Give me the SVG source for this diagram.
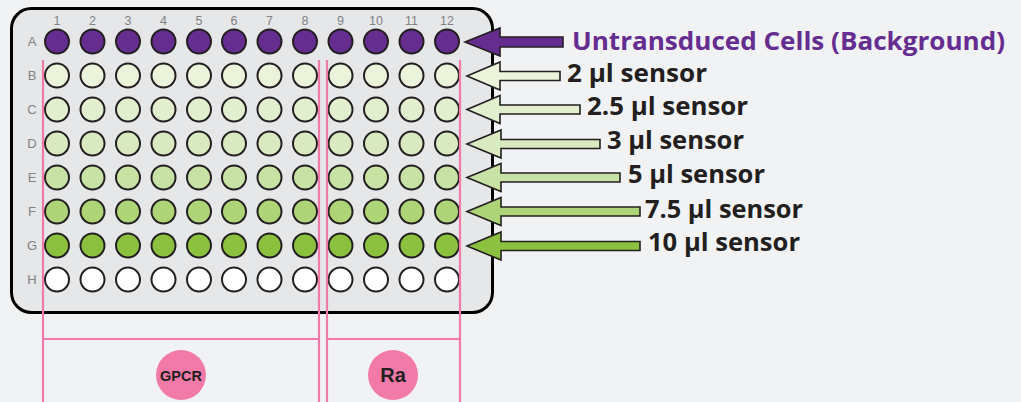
<svg xmlns="http://www.w3.org/2000/svg" width="1021" height="402" viewBox="0 0 1021 402">
<style>
.num{font-family:"Liberation Sans",Arial,sans-serif;font-size:12.5px;fill:#808285;text-anchor:middle}
.row{font-family:"Liberation Sans",Arial,sans-serif;font-size:13px;fill:#808285;text-anchor:middle}
.w{stroke:#231f20;stroke-width:2}
.arr{stroke:#231f20;stroke-width:1.6;stroke-linejoin:miter}
.lbl{font-family:"Open Sans","Liberation Sans",sans-serif;font-weight:700;font-size:25.5px;fill:#231f20}
.pink{stroke:#f27aa8;stroke-width:2.2;fill:none}
.tag{font-family:"Liberation Sans",Arial,sans-serif;font-weight:bold;fill:#231f20;text-anchor:middle}
</style>
<defs>
<g id="row12">
<circle cx="57" cy="0" r="12"/><circle cx="92.5" cy="0" r="12"/><circle cx="128" cy="0" r="12"/><circle cx="163.5" cy="0" r="12"/><circle cx="199" cy="0" r="12"/><circle cx="234" cy="0" r="12"/><circle cx="269.5" cy="0" r="12"/><circle cx="305" cy="0" r="12"/><circle cx="340.5" cy="0" r="12"/><circle cx="376" cy="0" r="12"/><circle cx="411.5" cy="0" r="12"/><circle cx="447" cy="0" r="12"/>
</g>
</defs>
<rect width="1021" height="402" fill="#f1f2f4"/>
<g id="plate">
<rect x="11.5" y="8.5" width="481" height="304" rx="20" ry="20" fill="#e6e7e8" stroke="#000" stroke-width="3"/>
<g id="colnums">
<text class="num" x="57" y="25">1</text><text class="num" x="92.5" y="25">2</text><text class="num" x="128" y="25">3</text><text class="num" x="163.5" y="25">4</text><text class="num" x="199" y="25">5</text><text class="num" x="234" y="25">6</text><text class="num" x="269.5" y="25">7</text><text class="num" x="305" y="25">8</text><text class="num" x="340.5" y="25">9</text><text class="num" x="376" y="25">10</text><text class="num" x="411.5" y="25">11</text><text class="num" x="447" y="25">12</text>
</g>
<g id="rowletters">
<text class="row" x="32" y="46">A</text><text class="row" x="32" y="80">B</text><text class="row" x="32" y="114">C</text><text class="row" x="32" y="148">D</text><text class="row" x="32" y="182">E</text><text class="row" x="32" y="216">F</text><text class="row" x="32" y="250">G</text><text class="row" x="32" y="284">H</text>
</g>
<g id="rowA" class="w" fill="#652d90"><use href="#row12" y="41.5"/></g>
<g id="rowB" class="w" fill="#ebf4da"><use href="#row12" y="75.5"/></g>
<g id="rowC" class="w" fill="#e2efcf"><use href="#row12" y="109.5"/></g>
<g id="rowD" class="w" fill="#d9eac1"><use href="#row12" y="143.5"/></g>
<g id="rowE" class="w" fill="#c8e2a5"><use href="#row12" y="177.5"/></g>
<g id="rowF" class="w" fill="#aed478"><use href="#row12" y="211.5"/></g>
<g id="rowG" class="w" fill="#8cc13f"><use href="#row12" y="245.5"/></g>
<g id="rowH" class="w" fill="#ffffff"><use href="#row12" y="279.5"/></g>
</g>
<g id="groups">
<line class="pink" x1="43" y1="60" x2="43" y2="402"/>
<line class="pink" x1="319" y1="60" x2="319" y2="402"/>
<line class="pink" x1="327" y1="60" x2="327" y2="402"/>
<line class="pink" x1="460" y1="60" x2="460" y2="402"/>
<line class="pink" x1="43" y1="339" x2="319" y2="339"/>
<line class="pink" x1="327" y1="339" x2="460" y2="339"/>
</g>
<g id="gpcr"><circle cx="181" cy="375" r="25" fill="#f27aa8"/><text class="tag" x="181" y="380.5" font-size="14.5">GPCR</text></g>
<g id="ra"><circle cx="393" cy="375" r="25" fill="#f27aa8"/><text class="tag" x="393" y="382" font-size="20">Ra</text></g>
<g id="connectors" class="arr">
<polygon fill="#652d90" points="465,42 500,28 500,37 563,37 563,47 500,47 500,56"/>
<polygon fill="#ebf4da" points="467,76 500,62 500,71.5 560,71.5 560,80.5 500,80.5 500,90"/>
<polygon fill="#e2efcf" points="467,109.5 500,95.5 500,105 580,105 580,114 500,114 500,123.5"/>
<polygon fill="#d9eac1" points="467,144 501,130 501,139.5 600,139.5 600,148.5 501,148.5 501,158"/>
<polygon fill="#c8e2a5" points="467,177.5 501,163.5 501,173 620,173 620,182 501,182 501,191.5"/>
<polygon fill="#aed478" points="467,211.5 501,197.5 501,207 640,207 640,216 501,216 501,225.5"/>
<polygon fill="#8cc13f" points="467,246 501,232 501,241.5 640,241.5 640,250.5 501,250.5 501,260"/>
</g>
<g id="labels">
<text class="lbl" x="572" y="50" style="fill:#662d91" textLength="433" lengthAdjust="spacingAndGlyphs">Untransduced Cells (Background)</text>
<text class="lbl" x="567" y="82" textLength="140" lengthAdjust="spacingAndGlyphs">2 µl sensor</text>
<text class="lbl" x="587" y="115" textLength="161" lengthAdjust="spacingAndGlyphs">2.5 µl sensor</text>
<text class="lbl" x="607" y="149" textLength="137" lengthAdjust="spacingAndGlyphs">3 µl sensor</text>
<text class="lbl" x="628" y="183" textLength="137" lengthAdjust="spacingAndGlyphs">5 µl sensor</text>
<text class="lbl" x="645" y="218" textLength="158" lengthAdjust="spacingAndGlyphs">7.5 µl sensor</text>
<text class="lbl" x="648" y="251" textLength="152" lengthAdjust="spacingAndGlyphs">10 µl sensor</text>
</g>
</svg>
